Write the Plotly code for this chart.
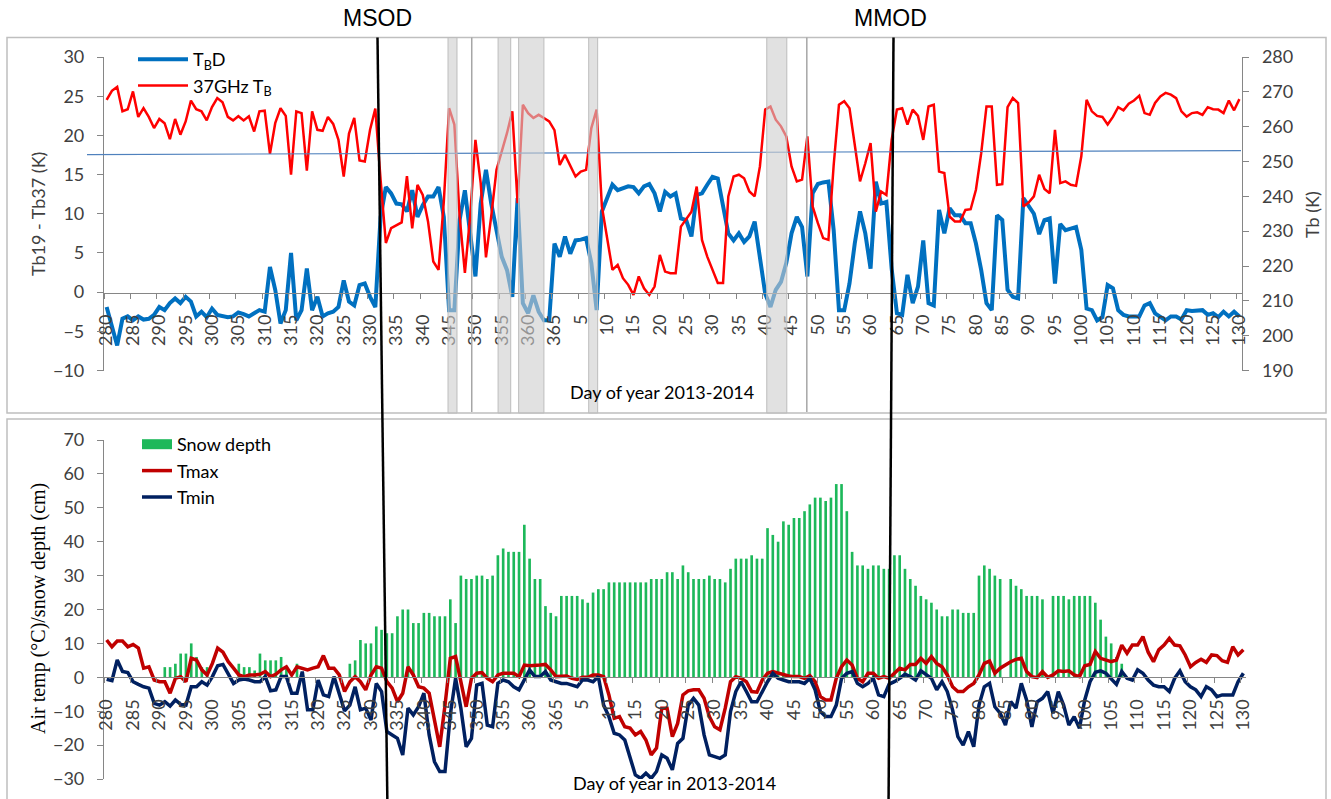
import plotly.graph_objects as go

# ---------------- data ----------------
days = list(range(280, 366)) + list(range(1, 131))

tbd = [
    -1.9, -4.6, -6.8, -3.4, -3.1, -3.6, -3.1, -3.5, -3.4, -2.9,
    -1.9, -2.3, -1.4, -0.8, -1.4, -0.6, -1.2, -3.1, -2.5, -3.2,
    -2.1, -2.9, -3.1, -3.2, -3.1, -2.6, -2.8, -3.1, -2.7, -2.3,
    -2.5, 3.2, 0.3, -4.0, -2.3, 5.0, -3.6, -2.3, 3.0, -2.3,
    -0.6, -3.1, -2.7, -2.5, -1.9, 1.5, -1.2, -1.7, 0.9, 1.1,
    -0.6, -1.9, 9.6, 13.4, 12.6, 11.3, 11.2, 10.3, 13.0, 9.6,
    11.1, 12.2, 12.2, 13.4, 9.6, -2.3, -2.3, 9.2, 13.0, 7.9,
    2.0, 11.3, 15.6, 11.3, 7.9, 4.5, 2.8, -0.6, 12.0, -1.4,
    -2.7, -0.4, -2.5, -3.6, -3.6, 6.2,
    4.5, 7.1, 4.9, 6.6, 6.7, 6.9, 3.7, -2.3, 10.3, 12.0,
    13.7, 13.0, 13.2, 13.5, 13.4, 12.6, 13.5, 13.8, 12.6, 10.3,
    12.8, 12.2, 12.6, 9.4, 9.2, 7.1, 12.4, 12.6, 13.7, 14.7,
    14.5, 10.9, 7.5, 6.6, 7.5, 6.4, 7.1, 9.0, 4.5, -0.2,
    -1.9, 0.3, 1.3, 3.7, 7.5, 9.6, 8.3, 2.0, 12.6, 13.8,
    14.0, 14.1, 7.9, -2.3, -2.3, 1.1, 6.2, 10.3, 7.5, 3.0,
    14.1, 11.3, 11.5, 3.0, -2.7, -2.9, 2.2, -1.4, 0.7, 6.6,
    -1.4, -1.7, 10.5, 7.5, 10.7, 9.8, 9.8, 8.8, 8.8, 6.2,
    2.8, -1.4, -2.3, 9.8, 9.2, 0.3, -0.6, -0.8, 12.0, 10.9,
    10.0, 7.4, 9.2, 9.4, 1.1, 8.7, 7.9, 8.1, 8.3, 5.4,
    -2.1, -2.3, -3.6, -3.2, 0.9, 0.5, -2.3, -2.9, -3.1, -3.1,
    -3.1, -1.7, -1.4, -2.7, -3.2, -3.6, -3.1, -3.1, -3.5, -2.3,
    -2.4, -2.4, -2.3, -2.9, -2.7, -3.2, -2.5, -3.1, -2.5, -3.1,
]

tb37 = [
    267.7, 270.3, 271.4, 264.4, 265.0, 270.1, 262.8, 265.3, 262.8, 259.6,
    262.2, 261.0, 256.4, 262.2, 257.7, 261.5, 267.5, 265.0, 264.4, 261.8,
    265.6, 268.2, 267.0, 262.8, 261.8, 263.0, 261.8, 263.0, 258.6, 264.4,
    264.6, 252.2, 261.0, 265.3, 263.1, 246.2, 264.4, 263.9, 247.4, 264.4,
    259.1, 258.8, 262.8, 260.8, 256.2, 245.7, 258.0, 262.5, 250.3, 250.0,
    259.1, 265.2, 244.7, 226.6, 230.9, 231.8, 232.5, 245.8, 230.8, 243.3,
    240.4, 232.8, 221.3, 218.9, 238.5, 265.3, 260.6, 234.3, 218.0, 234.3,
    256.2, 243.8, 222.5, 234.3, 247.6, 252.9, 258.2, 264.4, 238.0, 266.3,
    263.9, 262.5, 263.4, 262.5, 261.5, 259.0,
    249.0, 251.9, 249.0, 245.7, 247.1, 247.6, 259.6, 264.9, 237.1, 228.5,
    218.9, 220.3, 216.5, 214.6, 211.7, 217.0, 213.6, 211.7, 214.1, 223.2,
    218.4, 217.9, 217.9, 231.3, 233.3, 235.6, 242.8, 227.5, 222.7, 218.9,
    215.1, 215.1, 240.0, 245.7, 246.2, 245.2, 241.4, 240.0, 248.6, 264.9,
    265.8, 262.0, 260.1, 257.2, 248.6, 244.3, 244.8, 257.2, 237.1, 232.3,
    228.0, 227.5, 249.0, 266.3, 267.3, 265.3, 255.3, 244.3, 249.5, 255.3,
    235.6, 241.4, 240.4, 256.2, 264.9, 265.3, 260.6, 264.9, 263.1, 256.2,
    265.8, 266.3, 247.1, 246.7, 234.2, 232.8, 232.8, 236.1, 236.3, 241.9,
    252.4, 265.8, 265.8, 243.3, 243.5, 265.6, 268.2, 266.8, 237.1, 238.2,
    240.0, 246.2, 242.1, 240.9, 259.1, 243.8, 244.3, 243.3, 243.0, 251.5,
    267.7, 264.4, 263.1, 262.8, 260.6, 262.8, 265.6, 264.7, 266.6, 267.5,
    268.9, 263.9, 263.4, 266.8, 268.7, 269.7, 269.2, 268.2, 264.4, 262.9,
    263.9, 264.1, 263.4, 265.6, 265.0, 264.9, 263.9, 267.5, 264.7, 267.9,
]

snow_depth = (
    [0] * 11
    + [3, 3, 4, 7, 7, 10, 6, 3, 3]
    + [0] * 5
    + [4, 3, 3, 2, 7, 5, 5, 5, 6, 3, 0, 4]
    + [0] * 9
    + [4, 5, 11, 10, 10, 15, 14, 13, 13, 18, 20, 20, 16, 16, 19, 19, 18, 18, 18, 23]
    + [16, 30, 29, 29, 30, 30, 29, 30, 36, 38, 37, 37, 37, 45, 35, 29, 29, 21, 19, 18]
    + [24, 24, 24, 24, 23, 22, 25, 26, 26]
    + [28] * 8
    + [29, 29, 29, 31, 31, 29, 33, 31, 29, 29, 29, 30, 29, 29, 28]
    + [32, 35, 35, 35, 36, 35, 35]
    + [44, 42, 40, 46, 45, 47, 47, 49, 51, 53, 53, 52, 53, 57, 57, 49]
    + [37, 33, 33, 32, 33, 33, 32, 32, 36, 36, 32]
    + [29, 27, 24, 23, 22, 20, 18, 18, 20, 20, 19, 19, 19]
    + [30, 33, 32, 30, 29, 0, 29, 27, 26, 24, 24, 24, 23]
    + [0, 24, 24, 24, 23, 24, 24, 24, 24, 22, 17, 12, 10, 6, 4]
    + [0] * 23
)

tmax = [
    11.0, 9.0, 10.7, 10.7, 9.0, 9.7, 8.6, 2.7, 3.1, -0.8,
    -1.3, -1.3, -4.7, -0.3, 0.2, -1.3, 5.6, 5.1, 2.2, 0.7,
    4.1, 8.6, 7.4, 4.6, 2.7, 0.7, 0.2, 0.7, 0.7, 0.9,
    1.7, 0.2, 0.9, 2.2, 3.1, 0.7, 3.1, 2.7, 2.2, 2.7,
    3.1, 6.4, 2.7, 2.7, 0.7, -4.2, -1.3, 0.2, -1.3, -3.7,
    0.7, 3.1, 2.7, -1.3, -3.2, -7.2, -4.7, 3.1, 0.7, -2.8,
    -3.2, -4.7, -13.0, -20.5, -8.2, 5.6, 6.1, -1.3, -8.7, -0.3,
    1.2, 1.4, -0.3, -1.3, 0.7, 1.2, 1.2, 1.2, 0.2, 3.6,
    3.4, 3.4, 3.6, 3.8, 2.2, 0.2,
    0.2, 0.4, -0.3, -0.6, 0.0, 0.0, 0.7, 0.7, 0.2, -5.2,
    -12.1, -11.6, -14.6, -15.0, -17.0, -16.0, -18.5, -22.9, -20.9, -9.1,
    -9.1, -17.5, -13.6, -5.2, -4.0, -3.7, -3.7, -6.2, -11.6, -14.6,
    -15.5, -9.1, -1.3, 0.2, -0.3, -1.3, -4.2, -4.4, -0.8, 1.2,
    1.7, 1.2, 0.7, 0.4, 0.2, 0.2, -0.3, 0.5, -1.3, -5.7,
    -6.7, -6.7, -0.3, 3.1, 5.1, 3.6, -0.3, -1.3, 1.2, 1.2,
    -0.3, 0.2, -0.3, 1.2, 2.7, 2.2, 3.8, 3.8, 5.6, 4.1,
    6.1, 4.1, 3.1, 0.7, -2.8, -4.2, -4.2, -2.8, -1.8, 0.7,
    4.1, 4.8, 1.2, 2.7, 3.8, 4.6, 5.3, 5.6, 1.7, 0.2,
    -0.1, 1.7, 0.0, 0.7, 1.9, 1.7, 1.9, 0.7, 0.2, 3.4,
    3.8, 7.6, 5.6, 5.1, 4.6, 5.1, 9.5, 7.1, 9.5, 9.5,
    12.0, 7.4, 4.6, 8.1, 9.5, 11.5, 9.5, 9.3, 6.6, 3.1,
    4.4, 5.3, 4.4, 6.6, 6.4, 4.9, 4.4, 9.0, 6.6, 8.1,
]

tmin = [
    -0.6, -1.0, 5.1, 1.7, 1.4, -1.3, -2.1, -2.8, -3.2, -7.7,
    -8.2, -7.2, -8.5, -6.7, -8.0, -8.2, -2.8, -2.8, -1.3, -2.3,
    0.2, 3.4, 3.8, 1.2, -1.8, -0.8, -0.5, -0.8, -1.3, -1.3,
    0.2, -4.0, -3.7, 0.2, 0.2, -4.7, -4.7, 1.7, -9.6, -9.6,
    -0.8, -5.2, -5.7, 0.2, -5.2, -9.9, -8.2, -2.8, -9.6, -9.1,
    -12.6, -1.8, -4.2, -16.0, -17.0, -18.0, -22.9, -9.1, -11.1, -8.7,
    -4.7, -17.0, -24.9, -27.8, -27.8, -11.0, -0.3, -9.1, -20.5, -18.0,
    -2.3, -1.8, -14.1, -14.6, -1.8, -0.8, -1.3, -2.8, -3.7, -0.8,
    2.2, 0.2, 0.2, 1.7, -0.8, -1.3,
    -1.8, -1.8, -2.3, -2.8, -0.8, -0.8, -1.3, 0.2, -8.2, -11.6,
    -16.5, -17.0, -18.5, -23.9, -28.8, -29.8, -28.3, -29.8, -27.8, -22.9,
    -23.9, -27.3, -19.5, -18.0, -8.2, -6.2, -8.2, -17.0, -22.9, -23.4,
    -23.9, -22.9, -10.1, -4.2, -1.3, -4.2, -7.2, -7.2, -4.2, -1.3,
    1.2, -0.3, -0.8, -1.3, -1.3, -1.3, -1.8, -0.3, -3.7, -10.1,
    -11.6, -11.6, -8.2, -0.3, 1.2, 1.7, -1.8, -2.8, -1.8, -0.3,
    -5.2, -5.7, -2.0, -1.3, -0.3, 0.9, 0.2, -0.8, 1.9, 0.7,
    -0.3, -3.7, -1.3, -4.2, -9.6, -17.5, -20.0, -16.0, -20.5, -8.2,
    -2.8, -1.8, -8.7, -10.6, -14.1, -7.2, -9.1, -1.8, -6.7, -14.6,
    -7.2, -6.2, -4.2, -10.6, -4.2, -8.2, -14.1, -11.6, -15.0, -6.7,
    -1.3, 1.5, 1.9, 1.2, -0.3, -2.1, 1.7, -0.3, -0.8, 2.2,
    1.2, -0.8, -2.3, -2.8, -2.8, -4.2, -0.3, 1.9, -1.3, -2.8,
    -3.7, -5.7, -2.8, -3.7, -5.7, -5.2, -5.2, -5.2, -1.3, 1.2,
]

# shaded periods (positions along the day sequence) and marker lines
shaded_periods = [(64.8, 66.5), (74.3, 76.7), (78.2, 83.0), (91.5, 93.2), (125.3, 129.1)]
marker_lines = [69.3, 132.9]
msod_label, mmod_label = "MSOD", "MMOD"

for arr in (tbd, tb37, snow_depth, tmax, tmin):
    assert len(arr) == len(days), len(arr)

idx = list(range(len(days)))
NB = "\u00a0"
tickvals = list(range(0, len(days), 5))
ticktext = [str(days[i]) + NB * 3 for i in tickvals]
right_vals = list(range(190, 281, 10))
right_text = [NB * 2 + str(v) for v in right_vals]

# ---------------- figure ----------------
W, H = 1331, 799


def px(x):
    return x / W


def py(y):
    return 1 - y / H


FONT = "Lato"
TICKC = "#404040"
AXC = "#868686"
GREEN = "#1DB85A"

fig = go.Figure()

fig.add_trace(go.Scatter(x=idx, y=tbd, mode="lines", name="T<sub>B</sub>D",
                         line=dict(color="#0070C0", width=4),
                         xaxis="x", yaxis="y", legend="legend"))
fig.add_trace(go.Scatter(x=idx, y=tb37, mode="lines", name="37GHz T<sub>B</sub>",
                         line=dict(color="#FF0000", width=2.5),
                         xaxis="x", yaxis="y2", legend="legend"))
fig.add_trace(go.Bar(x=idx, y=snow_depth, name="Snow depth", width=0.5, showlegend=False,
                     marker=dict(color=GREEN, line=dict(width=0)),
                     xaxis="x2", yaxis="y3"))
# legend key for the snow-depth bars (wide green block, as in the original)
fig.add_trace(go.Scatter(x=[None], y=[None], mode="lines", name="Snow depth",
                         line=dict(color=GREEN, width=11),
                         xaxis="x2", yaxis="y3", legend="legend2"))
fig.add_trace(go.Scatter(x=idx, y=tmax, mode="lines", name="Tmax",
                         line=dict(color="#C00000", width=3.5),
                         xaxis="x2", yaxis="y3", legend="legend2"))
fig.add_trace(go.Scatter(x=idx, y=tmin, mode="lines", name="Tmin",
                         line=dict(color="#002060", width=3.5),
                         xaxis="x2", yaxis="y3", legend="legend2"))

tickfont = dict(family=FONT, size=18, color=TICKC)
xcommon = dict(tickmode="array", tickvals=tickvals, ticktext=ticktext, tickangle=-90,
               ticks="", showline=True, linecolor=AXC,
               linewidth=1.2, showgrid=False, zeroline=False, tickfont=tickfont,
               anchor="free", automargin=False,
               minor=dict(tickmode="linear", tick0=-0.5, dtick=5, ticks="outside",
                          ticklen=5, tickcolor=AXC, showgrid=False))
ycommon = dict(ticks="outside", ticklen=6, tickcolor=AXC, showline=True, linecolor=AXC,
               linewidth=1.2, showgrid=False, zeroline=False, tickfont=tickfont,
               automargin=False)

fig.update_layout(
    width=W, height=H,
    margin=dict(l=0, r=0, t=0, b=0),
    paper_bgcolor="white", plot_bgcolor="rgba(0,0,0,0)",
    showlegend=True,
    xaxis=dict(domain=[px(104), px(1242)], range=[-0.5, 215.5],
               position=py(292.5), **xcommon),
    yaxis=dict(domain=[py(370.5), py(57)], range=[-10, 30], dtick=5, anchor="x",
               ticklabelstandoff=9, **ycommon),
    yaxis2=dict(domain=[py(370.5), py(57)], range=[190, 280], tickmode="array",
                tickvals=right_vals, ticktext=right_text, overlaying="y",
                side="right", anchor="x", **ycommon),
    xaxis2=dict(domain=[px(104), px(1246)], range=[-0.5, 215.5],
                position=py(677.3), **xcommon),
    yaxis3=dict(domain=[py(779), py(440)], range=[-30, 70], dtick=10, anchor="x2",
                ticklabelstandoff=9, **ycommon),
    legend=dict(x=px(133), y=py(41), xanchor="left", yanchor="top",
                bgcolor="rgba(0,0,0,0)", font=dict(family=FONT, size=18, color="#000000"),
                itemwidth=50, tracegroupgap=0),
    legend2=dict(x=px(137), y=py(426), xanchor="left", yanchor="top",
                 bgcolor="rgba(0,0,0,0)", font=dict(family=FONT, size=18, color="#000000"),
                 itemwidth=30, tracegroupgap=0),
)

shapes = []
# panel frames
shapes.append(dict(type="rect", xref="paper", yref="paper", x0=px(7), x1=px(1326),
                   y0=py(413), y1=py(37.5), line=dict(color="#BFBFBF", width=1.5),
                   fillcolor="rgba(0,0,0,0)", layer="below"))
shapes.append(dict(type="rect", xref="paper", yref="paper", x0=px(7), x1=px(1326),
                   y0=py(812), y1=py(419), line=dict(color="#BFBFBF", width=1.5),
                   fillcolor="rgba(0,0,0,0)", layer="below"))
# thin blue reference line in top panel
shapes.append(dict(type="line", xref="paper", yref="y", x0=px(87), x1=px(1241),
                   y0=17.55, y1=18.06, line=dict(color="#4F81BD", width=1.2), layer="above"))
# grey shaded periods
for (a, b) in shaded_periods:
    shapes.append(dict(type="rect", xref="x", yref="paper", x0=a, x1=b,
                       y0=py(413), y1=py(37.5), fillcolor="rgba(205,205,205,0.6)",
                       line=dict(color="#BDBDBD", width=1), layer="above"))
for m in marker_lines:
    shapes.append(dict(type="line", xref="x", yref="paper", x0=m, x1=m,
                       y0=py(412), y1=py(37.5), line=dict(color="#A6A6A6", width=1.5),
                       layer="above"))
# MSOD / MMOD black lines spanning both panels
shapes.append(dict(type="line", xref="paper", yref="paper", x0=px(377.5), x1=px(387.5),
                   y0=py(37.5), y1=py(812), line=dict(color="black", width=2.5), layer="above"))
shapes.append(dict(type="line", xref="paper", yref="paper", x0=px(893.5), x1=px(888.5),
                   y0=py(37.5), y1=py(812), line=dict(color="black", width=2.5), layer="above"))
fig.update_layout(shapes=shapes)


def note(text, x, y, size=18, family=FONT, color="#000000", angle=0):
    return dict(text=text, x=px(x), y=py(y), xref="paper", yref="paper",
                xanchor="center", yanchor="middle", textangle=angle, showarrow=False,
                font=dict(family=family, size=size, color=color))


ann = [
    note(msod_label, 378, 18, size=23, family="Liberation Sans"),
    note(mmod_label, 890, 18, size=23, family="Liberation Sans"),
    note("Tb19 - Tb37 (K)", 38, 214, color=TICKC, angle=-90),
    note("Tb (K)", 1312, 215, color=TICKC, angle=-90),
    note("Day of year 2013-2014", 662, 392),
    note("Day of year in 2013-2014", 675, 783),
    note("Air temp (°C)/snow depth (cm)", 38, 609, size=20,
         family="Liberation Serif", angle=-90),
]
fig.update_layout(annotations=ann)

fig.write_html("out.html", config={"displayModeBar": False},
               post_script="document.body.style.margin='0';document.body.style.overflow='hidden';")
